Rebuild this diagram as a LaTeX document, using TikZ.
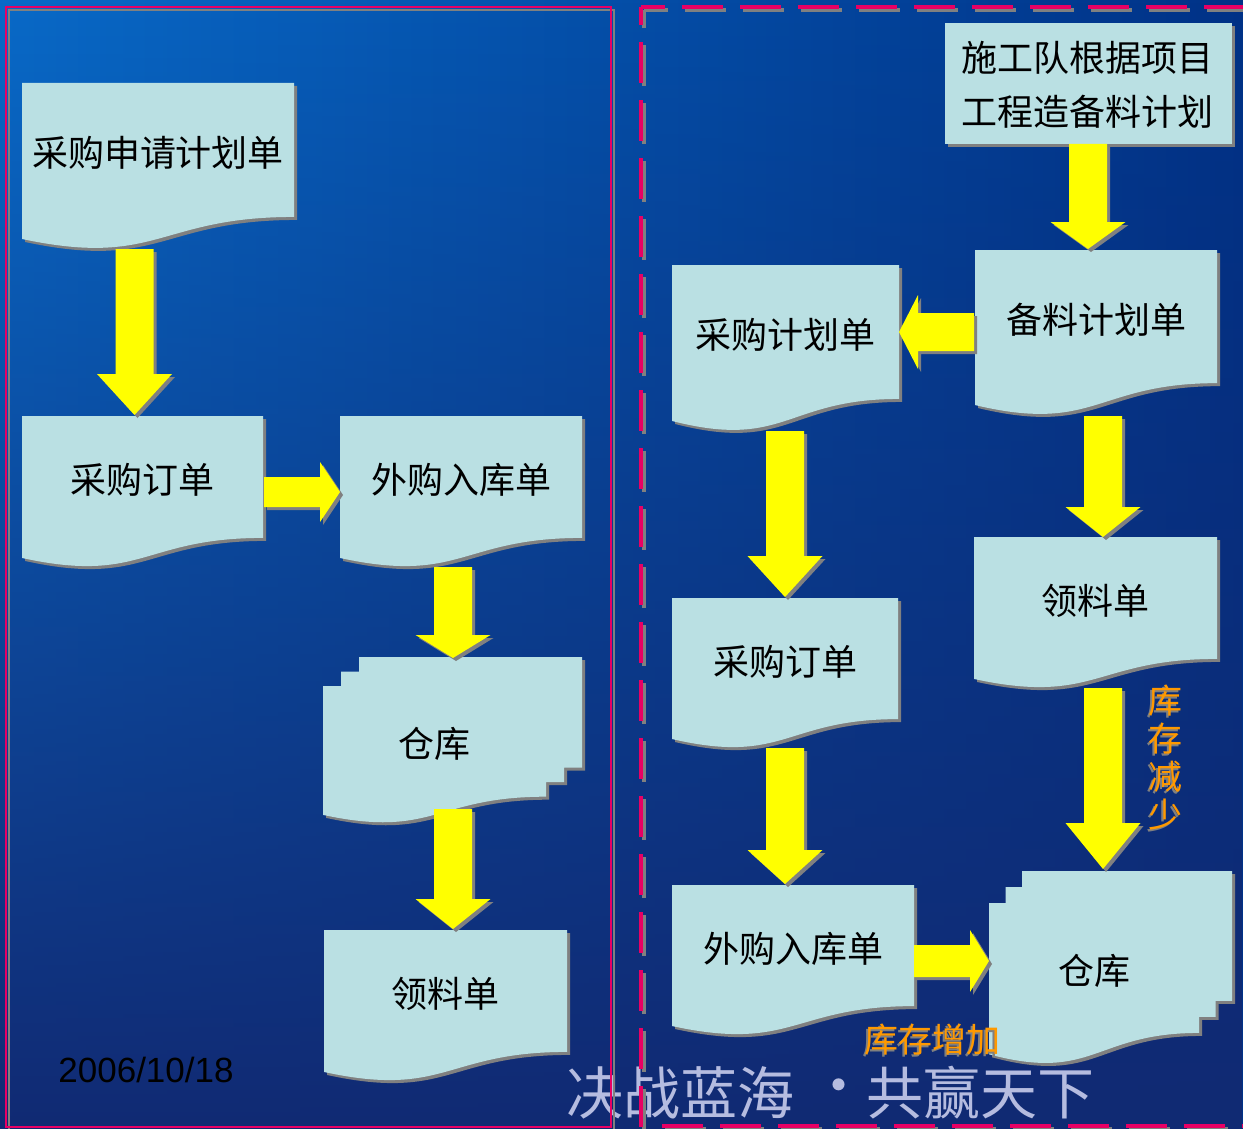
\documentclass[tikz,border=0pt]{standalone}
\usepackage{fontspec}
\setmainfont{Liberation Sans}
\newfontfamily\cjk{Noto Sans CJK SC}
\usetikzlibrary{calc,fadings}
\definecolor{bgA}{RGB}{8,106,200}
\definecolor{bgB}{RGB}{0,50,135}
\definecolor{bgC}{RGB}{17,42,115}
\definecolor{docfill}{RGB}{186,224,227}
\definecolor{sgray}{RGB}{128,128,128}
\definecolor{ayellow}{RGB}{255,255,0}
\definecolor{mag}{RGB}{232,0,100}
\definecolor{orng}{RGB}{255,153,0}
\definecolor{wmark}{RGB}{200,204,236}
\tikzfading[name=fadedown, top color=transparent!100, middle color=transparent!25, bottom color=transparent!0]
\tikzset{
  doctext/.style={font=\cjk\fontsize{36}{40}\selectfont, text=black, inner sep=0pt},
  orangetext/.style={font=\cjk\fontsize{34}{38}\selectfont, text=orng, inner sep=0pt, align=center},
  orangeshadow/.style={font=\cjk\fontsize{34}{38}\selectfont, text=sgray, inner sep=0pt, align=center},
  wmtext/.style={font=\cjk\fontsize{57}{60}\selectfont, text=wmark, inner sep=0pt, opacity=0.9},
  framesolid/.style={draw=mag, line width=2.2pt},
  frameshadow/.style={draw=sgray, line width=2.2pt},
}
% document shape path: style, x1, y1, x2, H
\newcommand\docpathshape[5]{%
  \fill[#1] (#2,#3) -- (#4,#3) -- (#4,{#3+0.802*#5})
    .. controls ({(#2+#4)/2},{#3+0.802*#5}) and ({(#2+#4)/2},{#3+1.1075*#5}) .. (#2,{#3+0.934*#5}) -- cycle;}
\newcommand\docshape[6]{%
  \docpathshape{sgray,shift={(3,3)}}{#2}{#3}{#4}{#5}
  \docpathshape{docfill}{#2}{#3}{#4}{#5}
  \node[doctext] (#1) at ({(#2+#4)/2},{#3+0.42*#5}) {#6};}
% multi-document path: style, x1, y1, x2, H, dx, dy
\newcommand\mdocpath[7]{%
  \fill[#1] (#2,#3) -- ({#2+#6},#3) -- ({#2+#6},{#3-#7}) -- ({#2+2*#6},{#3-#7})
    -- ({#2+2*#6},{#3-2*#7}) -- ({#4+2*#6},{#3-2*#7}) -- ({#4+2*#6},{#3+0.802*#5-2*#7})
    -- ({#4+#6},{#3+0.802*#5-2*#7}) -- ({#4+#6},{#3+0.802*#5-#7}) -- (#4,{#3+0.802*#5-#7})
    -- (#4,{#3+0.802*#5})
    .. controls ({(#2+#4)/2},{#3+0.802*#5}) and ({(#2+#4)/2},{#3+1.1075*#5}) .. (#2,{#3+0.934*#5}) -- cycle;}
\newcommand\mdocshape[8]{%
  \mdocpath{sgray,shift={(3,3)}}{#2}{#3}{#4}{#5}{#6}{#7}
  \mdocpath{docfill}{#2}{#3}{#4}{#5}{#6}{#7}
  \node[doctext] (#1) at ({(#2+#4)/2},{#3+0.42*#5}) {#8};}
% vertical block arrow: start, tip, head length
\newcommand\varrow[3]{%
  \foreach \o/\c in {3/sgray,0/ayellow}{
    \fill[\c] ($(#1)+({-19+\o},{\o})$) -- ($(#1)+({19+\o},{\o})$) -- ($(#2)+({19+\o},{-#3+\o})$)
      -- ($(#2)+({37.5+\o},{-#3+\o})$) -- ($(#2)+({\o},{\o})$) -- ($(#2)+({-37.5+\o},{-#3+\o})$)
      -- ($(#2)+({-19+\o},{-#3+\o})$) -- cycle;}}
% horizontal block arrow: start, tip, shaft half, head half, signed head length
\newcommand\harrow[5]{%
  \foreach \o/\c in {3/sgray,0/ayellow}{
    \fill[\c] ($(#1)+({\o},{-#3+\o})$) -- ($(#2)+({-(#5)+\o},{-#3+\o})$) -- ($(#2)+({-(#5)+\o},{-#4+\o})$)
      -- ($(#2)+({\o},{\o})$) -- ($(#2)+({-(#5)+\o},{#4+\o})$) -- ($(#2)+({-(#5)+\o},{#3+\o})$)
      -- ($(#1)+({\o},{#3+\o})$) -- cycle;}}
\begin{document}
\begin{tikzpicture}[x=1pt,y=-1pt]
\useasboundingbox (0,0) rectangle (1243,1129);
% background
\shade[left color=bgA, right color=bgB] (0,0) rectangle (1243,1129);
\fill[bgC, path fading=fadedown] (0,0) rectangle (1243,1129);
% watermark
\node[wmtext] (wm1) at (680,1093) {决战蓝海};
\node[wmtext] (wmdot) at (839,1093) {·};
\node[wmtext] (wm2) at (980,1093) {共赢天下};
% left frame
\draw[frameshadow] (9,10) rectangle (614,1130);
\draw[framesolid] (6,7) rectangle (611,1127);
% right dashed frame
\foreach \o/\c in {3/sgray,0/mag}{
  \draw[\c, line width=4.5pt, dash pattern=on 41pt off 17pt, dash phase=17pt] ({641+\o},{7+\o}) -- ({1250+\o},{7+\o});
  \draw[\c, line width=4.5pt, dash pattern=on 41pt off 17pt, dash phase=23pt] ({641+\o},{7+\o}) -- ({641+\o},{1135+\o});
  \draw[\c, line width=4.5pt, dash pattern=on 41pt off 17pt] ({662+\o},{1126+\o}) -- ({1250+\o},{1126+\o});
}
% left column documents
\docshape{d1}{22}{83}{294}{167}{采购申请计划单}
\docshape{d2}{22}{416}{263}{152}{采购订单}
\docshape{d3}{340}{416}{582}{152}{外购入库单}
\mdocshape{d4}{323}{686}{546}{138}{18}{14.5}{仓库}
\docshape{d5}{324}{930}{567}{152}{领料单}
% right column
\fill[sgray] (948,26) rectangle (1235,147);
\fill[docfill] (945,23) rectangle (1232,144);
\node[doctext, align=center, font=\cjk\fontsize{36}{54}\selectfont] (r0) at (1087,85) {施工队根据项目\\工程造备料计划};
\docshape{r1}{975}{250}{1217}{166}{备料计划单}
\docshape{r2}{672}{265}{899}{167}{采购计划单}
\docshape{r3}{672}{598}{898}{151}{采购订单}
\docshape{r4}{974}{537}{1217}{152}{领料单}
\docshape{r5}{672}{885}{914}{151}{外购入库单}
\mdocshape{r6}{989}{903}{1199}{162}{16.5}{16}{仓库}
% arrow end points
\coordinate (a1s) at (134.5,249);  \coordinate (a1e) at (134.5,415);
\coordinate (a2s) at (264,492);    \coordinate (a2e) at (340,492);
\coordinate (a3s) at (453,567);    \coordinate (a3e) at (453,658);
\coordinate (a4s) at (453,809);    \coordinate (a4e) at (453,929);
\coordinate (a5s) at (1088,144);   \coordinate (a5e) at (1088,249);
\coordinate (a6s) at (974,332);    \coordinate (a6e) at (899,332);
\coordinate (a7s) at (785,431);    \coordinate (a7e) at (785,597);
\coordinate (a8s) at (1103,416);   \coordinate (a8e) at (1103,537);
\coordinate (a9s) at (785,748);    \coordinate (a9e) at (785,884);
\coordinate (a10s) at (1103,688);  \coordinate (a10e) at (1103,869);
\coordinate (a11s) at (914,961);   \coordinate (a11e) at (989,961);
\varrow{a1s}{a1e}{41}
\harrow{a2s}{a2e}{15}{30}{20}
\varrow{a3s}{a3e}{23}
\varrow{a4s}{a4e}{30}
\varrow{a5s}{a5e}{27}
\harrow{a6s}{a6e}{19}{37}{-19}
\varrow{a7s}{a7e}{41}
\varrow{a8s}{a8e}{30}
\varrow{a9s}{a9e}{34}
\varrow{a10s}{a10e}{46}
\harrow{a11s}{a11e}{16}{31}{19}
% orange annotations
\node[orangeshadow] (o1s) at (1163,760) {库\\存\\减\\少};
\node[orangetext] (o1) at (1165,758) {库\\存\\减\\少};
\node[orangeshadow] (o2s) at (930,1042) {库存增加};
\node[orangetext] (o2) at (932,1040) {库存增加};
% date
\node[font=\fontsize{35}{40}\selectfont, text=black, inner sep=0pt] (date) at (146,1070) {2006/10/18};
\end{tikzpicture}
\end{document}
